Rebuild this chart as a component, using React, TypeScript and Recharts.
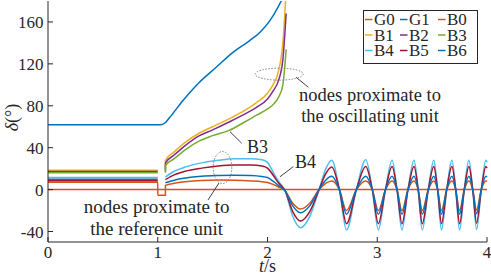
import React from 'react';
import { LineChart, Line, XAxis, YAxis, Legend, ReferenceDot, ReferenceLine } from 'recharts';

const FONT = '"Liberation Serif", "Times New Roman", Times, serif';
const INK = '#262626';

// axes
const X_TICKS = [0, 1, 2, 3, 4];
const Y_TICKS = [-40, 0, 40, 80, 120, 160];
const X_DOMAIN: [number, number] = [0, 4];
const Y_DOMAIN: [number, number] = [-50, 180];

// series
const SERIES_NAMES = ['G0', 'G1', 'B0', 'B1', 'B2', 'B3', 'B4', 'B5', 'B6'];
const SERIES_COLORS = ['#D95319', '#0072BD', '#D95319', '#EDB120', '#7E2F8E', '#77AC30', '#4DBEEE', '#A2142F', '#0072BD'];

// reference generator G0
const G0_T = [0, 4];
const G0_V = [0, 0];

// oscillating generator G1
const G1_T = [0, 1.03, 1.07, 1.11, 1.23, 1.38, 1.53, 1.685, 1.835, 1.93, 2.02, 2.095, 2.125, 2.16];
const G1_V = [62, 62, 64, 69, 85, 102.5, 116.5, 131, 142, 150, 161, 174, 180, 188];

// pre-fault bus angles (B0..B6), held from t=0 to the fault at t=1 s
const PRE_T = [0, 1.0];
const GAP_T = 1.035;
const B_PRE = [7, 18.5, 17.3, 16, 11.5, 8.5, 10];

// B0 during the fault
const B0_FAULT_T = [1.0001, 1.0699];
const B0_FAULT_V = [-5.5, -5.5];

// buses near the oscillating unit (B1..B3)
const T_UP = [1.07, 1.0701, 1.15, 1.25, 1.38, 1.5, 1.65, 1.8, 1.9, 2.0, 2.05, 2.1, 2.14, 2.17];
const B1_UP = [18.5, 28, 36, 45, 54, 60, 67.5, 76, 83, 92, 100, 113, 140, 190];
const B2_UP = [17.3, 25.5, 33, 42, 51.5, 57, 64.5, 72.5, 78.5, 86.5, 94, 104, 124, 168];
const B3_UP = [16, 23, 29.5, 38, 46.5, 51.5, 56.5, 65, 71, 77, 81, 88, 100, 134];

// buses near the reference unit (B0, B4..B6)
const T_LOW = [
  1.07, 1.15, 1.25, 1.4, 1.55, 1.7, 1.85, 1.95, 2.0, 2.05, 2.1,
  2.16, 2.23, 2.3, 2.385, 2.47, 2.53, 2.585,
  2.655, 2.72, 2.81, 2.895,
  2.955, 3.01, 3.075, 3.135,
  3.18, 3.225, 3.28, 3.335,
  3.373, 3.41, 3.465, 3.515,
  3.55, 3.585, 3.633, 3.68,
  3.715, 3.75, 3.793, 3.835,
  3.87, 3.905, 3.948, 3.99,
  4.0,
];
const B4_LOW = [
  12, 17.5, 21.5, 25.5, 28, 29.5, 29.5, 28.5, 26, 17, 8,
  -1, -25.5, -36.5, -25.5, 0, 19.5, 28,
  0, -38.5, 0, 28.5,
  0, -38.5, 0, 28,
  0, -38.5, 0, 28,
  0, -38.5, 0, 28,
  0, -38.5, 0, 28,
  0, -38.5, 0, 28,
  0, -38, 0, 28,
  26,
];
const B5_LOW = [
  9.5, 14, 17.5, 20.5, 22.5, 23.5, 23.5, 22.5, 20.5, 14, 6.5,
  -1, -21, -30, -21, 0, 15, 21.5,
  0, -32.5, 0, 22,
  0, -32.5, 0, 22,
  0, -32.5, 0, 22,
  0, -32.5, 0, 22,
  0, -32.5, 0, 22,
  0, -32.5, 0, 22,
  0, -32, 0, 22,
  20.5,
];
const B6_LOW = [
  6.5, 9, 11, 12.8, 13.5, 13.8, 13.5, 12.5, 11.5, 8, 4,
  -1, -15.5, -22, -15.5, 0, 9, 12.7,
  0, -23.5, 0, 12.7,
  0, -23.5, 0, 12.7,
  0, -23.5, 0, 12.7,
  0, -23.5, 0, 12.7,
  0, -23.5, 0, 12.7,
  0, -23.5, 0, 12.7,
  0, -23, 0, 12.7,
  12,
];
const B0_LOW = [
  4, 6, 7.5, 8.8, 9.2, 9, 8.3, 7.5, 6.8, 5, 2.5,
  -1, -13, -18.5, -13, 0, 6, 8.3,
  0, -20, 0, 8.3,
  0, -20, 0, 8.3,
  0, -20, 0, 8.3,
  0, -20, 0, 8.3,
  0, -20, 0, 8.3,
  0, -20, 0, 8.3,
  0, -19.5, 0, 8.3,
  8,
];

// annotation texts
const NOTE_OSC = ['nodes proximate to', 'the oscillating unit'];
const NOTE_REF = ['nodes proximate to', 'the reference unit'];

type Pt = { t: number; v: number | null };
const pts = (t: number[], v: number[]): Pt[] => t.map((x, i) => ({ t: x, v: v[i] }));
const pre = (i: number): Pt[] => PRE_T.map((t) => ({ t, v: B_PRE[i] }));
const gap: Pt[] = [{ t: GAP_T, v: null }];

const SERIES_DATA: Record<string, Pt[]> = {
  G0: pts(G0_T, G0_V),
  G1: pts(G1_T, G1_V),
  B0: [...pre(0), ...pts(B0_FAULT_T, B0_FAULT_V), ...pts(T_LOW, B0_LOW)],
  B1: [...pre(1), ...gap, ...pts(T_UP, B1_UP)],
  B2: [...pre(2), ...gap, ...pts(T_UP, B2_UP)],
  B3: [...pre(3), ...gap, ...pts(T_UP, B3_UP)],
  B4: [...pre(4), ...gap, ...pts(T_LOW, B4_LOW)],
  B5: [...pre(5), ...gap, ...pts(T_LOW, B5_LOW)],
  B6: [...pre(6), ...gap, ...pts(T_LOW, B6_LOW)],
};

// annotation layout (data coordinates)
const ELLIPSES = [
  { t: 2.107, v: 110.2, rx: 24, ry: 6 },
  { t: 1.59, v: 21.1, rx: 9.3, ry: 16 },
];
const LEADERS = [
  [{ x: 2.26, y: 107.2 }, { x: 2.372, y: 97.7 }],
  [{ x: 1.558, y: 6.3 }, { x: 1.458, y: -9.9 }],
  [{ x: 1.658, y: 55.3 }, { x: 1.765, y: 44.2 }],
  [{ x: 2.235, y: 21.9 }, { x: 2.114, y: 12.3 }],
];
const TEXTS = [
  { t: 2.934, v: 84.6, text: NOTE_OSC[0], anchor: 'middle', size: 18.5 },
  { t: 2.934, v: 64.5, text: NOTE_OSC[1], anchor: 'middle', size: 18.5 },
  { t: 0.99, v: -22.8, text: NOTE_REF[0], anchor: 'middle', size: 19 },
  { t: 0.99, v: -43.3, text: NOTE_REF[1], anchor: 'middle', size: 19 },
  { t: 1.813, v: 35.0, text: 'B3', anchor: 'start', size: 18 },
  { t: 2.251, v: 20.6, text: 'B4', anchor: 'start', size: 18 },
];

const LEGEND_COL_X = [2, 37, 75];
const LEGEND_ROW_Y = [15, 30.5, 46];

const renderLegend = () => (
  <svg width={116} height={55} style={{ display: 'block' }}>
    <rect x={0.5} y={0.5} width={114} height={53} fill="#fff" stroke={INK} strokeWidth={1} />
    {SERIES_NAMES.map((name, i) => {
      const x0 = LEGEND_COL_X[i % 3];
      const yb = LEGEND_ROW_Y[Math.floor(i / 3)];
      return (
        <g key={name}>
          <line x1={x0} x2={x0 + 7.5} y1={yb - 5.5} y2={yb - 5.5} stroke={SERIES_COLORS[i]} strokeWidth={1.5} />
          <text x={x0 + 9} y={yb} fontSize={17} fontFamily={FONT} fill={INK}>{name}</text>
        </g>
      );
    })}
  </svg>
);

const renderYLabel = (props: any) => {
  const vb = props.viewBox || { x: 0, y: 1, width: 48, height: 241 };
  const x = vb.x + 18;
  const y = vb.y + vb.height / 2 - 4;
  return (
    <text x={x} y={y} transform={`rotate(-90, ${x}, ${y})`} textAnchor="middle" fontSize={18} fontFamily={FONT} fill={INK}>
      <tspan fontStyle="italic">δ</tspan>(°)
    </text>
  );
};

const renderXLabel = (props: any) => {
  const vb = props.viewBox || { x: 48, y: 242, width: 439, height: 34 };
  return (
    <text x={vb.x + vb.width / 2} y={vb.y + 30} textAnchor="middle" fontSize={18} fontFamily={FONT} fill={INK}>
      <tspan fontStyle="italic">t</tspan>/s
    </text>
  );
};

const tickStyle = { fontSize: 17, fill: INK, fontFamily: FONT };
const axisLine = { stroke: INK, strokeWidth: 1 };

export default function App() {
  return (
    <div style={{ position: 'absolute', left: 0, top: 0, background: '#fff', fontFamily: FONT }}>
      <LineChart width={491} height={276} margin={{ top: 1, right: 4, bottom: 0, left: 0 }}>
        <XAxis
          dataKey="t"
          type="number"
          domain={X_DOMAIN}
          ticks={X_TICKS}
          interval={0}
          height={34}
          tickSize={-5}
          tickMargin={9}
          tick={tickStyle}
          axisLine={axisLine}
          tickLine={axisLine}
          label={{ content: renderXLabel }}
        />
        <XAxis
          xAxisId="top"
          orientation="top"
          dataKey="t"
          type="number"
          domain={X_DOMAIN}
          ticks={X_TICKS}
          interval={0}
          height={0}
          tickSize={-5}
          tick={false}
          axisLine={axisLine}
          tickLine={axisLine}
        />
        <YAxis
          type="number"
          domain={Y_DOMAIN}
          ticks={Y_TICKS}
          interval={0}
          allowDataOverflow
          width={48}
          tickSize={-5}
          tickMargin={9.5}
          tick={tickStyle}
          axisLine={axisLine}
          tickLine={axisLine}
          label={{ content: renderYLabel }}
        />
        <YAxis
          yAxisId="right"
          orientation="right"
          type="number"
          domain={Y_DOMAIN}
          ticks={Y_TICKS}
          interval={0}
          allowDataOverflow
          width={0}
          tickSize={-5}
          tick={false}
          axisLine={axisLine}
          tickLine={axisLine}
        />
        <Legend
          layout="vertical"
          align="center"
          verticalAlign="middle"
          wrapperStyle={{ left: 363, top: 10, width: 116, height: 55, lineHeight: 0 }}
          content={renderLegend}
        />
        {SERIES_NAMES.map((name, i) => (
          <Line
            key={name}
            name={name}
            data={SERIES_DATA[name]}
            dataKey="v"
            type="monotone"
            stroke={SERIES_COLORS[i]}
            strokeWidth={1.5}
            dot={false}
            activeDot={false}
            connectNulls={false}
            isAnimationActive={false}
          />
        ))}
        {ELLIPSES.map((e, i) => (
          <ReferenceDot
            key={`e${i}`}
            x={e.t}
            y={e.v}
            r={1}
            shape={(p: any) => (
              <ellipse cx={p.cx} cy={p.cy} rx={e.rx} ry={e.ry} fill="none" stroke="#808080" strokeWidth={1} strokeDasharray="1.5 1.5" />
            )}
          />
        ))}
        {LEADERS.map((seg, i) => (
          <ReferenceLine key={`l${i}`} segment={seg} stroke="#404040" strokeWidth={1} />
        ))}
        {TEXTS.map((a, i) => (
          <ReferenceDot
            key={`t${i}`}
            x={a.t}
            y={a.v}
            r={1}
            shape={(p: any) => (
              <text x={p.cx} y={p.cy} textAnchor={a.anchor as any} fontSize={a.size} fontFamily={FONT} fill={INK}>
                {a.text}
              </text>
            )}
          />
        ))}
      </LineChart>
    </div>
  );
}
